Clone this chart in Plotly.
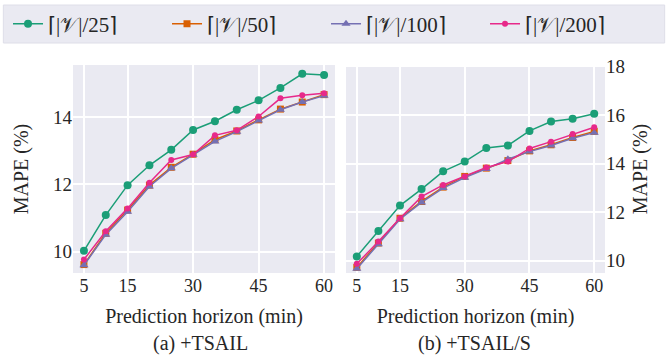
import plotly.graph_objects as go

horizons = [5, 10, 15, 20, 25, 30, 35, 40, 45, 50, 55, 60]
x_ticks = [5, 15, 30, 45, 60]
y_ticks_a = [10, 12, 14]
y_ticks_b = [10, 12, 14, 16, 18]

series_names = ["⌈|𝒱|/25⌉", "⌈|𝒱|/50⌉", "⌈|𝒱|/100⌉", "⌈|𝒱|/200⌉"]

# (a) +TSAIL
a_25 = [10.03, 11.09, 11.98, 12.57, 13.03, 13.62, 13.88, 14.22, 14.50, 14.87, 15.29, 15.25]
a_50 = [9.62, 10.55, 11.24, 11.98, 12.51, 12.90, 13.33, 13.59, 13.92, 14.24, 14.45, 14.67]
a_100 = [9.60, 10.51, 11.19, 11.94, 12.48, 12.88, 13.28, 13.57, 13.90, 14.22, 14.45, 14.64]
a_200 = [9.77, 10.61, 11.29, 12.05, 12.73, 12.89, 13.46, 13.61, 14.02, 14.56, 14.65, 14.71]

# (b) +TSAIL/S
b_25 = [10.18, 11.23, 12.27, 12.95, 13.68, 14.08, 14.64, 14.74, 15.34, 15.73, 15.84, 16.05]
b_50 = [9.73, 10.73, 11.75, 12.44, 13.03, 13.47, 13.81, 14.12, 14.52, 14.77, 15.07, 15.32]
b_100 = [9.67, 10.68, 11.71, 12.40, 12.99, 13.42, 13.78, 14.18, 14.49, 14.74, 15.04, 15.27]
b_200 = [9.88, 10.79, 11.75, 12.64, 13.12, 13.47, 13.84, 14.08, 14.62, 14.90, 15.21, 15.49]

colors = ["#1b9e77", "#d95f02", "#7570b3", "#e7298a"]
symbols = ["circle", "square", "triangle-up", "circle"]
sizes = [8, 7, 8, 6]

FAM = "Liberation Serif"
TXT = "#262626"
BG = "#eaeaf2"

def f(size):
    return dict(family=FAM, size=size, color=TXT)

fig = go.Figure()
for i, (ya, yb) in enumerate(zip([a_25, a_50, a_100, a_200], [b_25, b_50, b_100, b_200])):
    for j, (ys, xa, ya_ax) in enumerate([(ya, "x", "y"), (yb, "x2", "y2")]):
        fig.add_trace(go.Scatter(
            x=horizons, y=ys, xaxis=xa, yaxis=ya_ax,
            mode="lines+markers", name=series_names[i],
            legendgroup=series_names[i], showlegend=(j == 0),
            line=dict(color=colors[i], width=1.5),
            marker=dict(symbol=symbols[i], size=sizes[i], color=colors[i]),
        ))

def axis(tick_size, **kw):
    d = dict(showgrid=True, gridcolor="white", gridwidth=2, zeroline=False,
             showline=False, ticks="", tickfont=f(tick_size), automargin=False)
    d.update(kw)
    return d

fig.update_layout(
    template="none",
    width=668, height=362,
    margin=dict(l=0, r=0, t=0, b=0),
    paper_bgcolor="white", plot_bgcolor=BG,
    font=f(18),
    xaxis=axis(18, domain=[0.1093, 0.5015], range=[2.5, 62.5], tickvals=x_ticks,
               title=dict(text="Prediction horizon (min)", font=f(20), standoff=14),
               anchor="y"),
    yaxis=axis(19, domain=[0.2459, 0.8204], range=[9.37, 15.55], tickvals=y_ticks_a,
               title=dict(text="MAPE (%)", font=f(20), standoff=18),
               anchor="x"),
    xaxis2=axis(18, domain=[0.518, 0.9057], range=[2.5, 62.5], tickvals=x_ticks,
                title=dict(text="Prediction horizon (min)", font=f(20), standoff=14),
                anchor="y2"),
    yaxis2=axis(19, domain=[0.2459, 0.8204], range=[9.5, 18.05], tickvals=y_ticks_b,
                side="right", anchor="x2",
                title=dict(text="MAPE (%)", font=f(20), standoff=8)),
    legend=dict(orientation="h", x=0.012, y=0.99, xanchor="left", yanchor="top",
                bgcolor="rgba(0,0,0,0)", borderwidth=0,
                entrywidth=114, font=f(21)),
    shapes=[dict(type="rect", xref="paper", yref="paper", x0=0.005, x1=0.995,
                 y0=1 - 43 / 362, y1=1 - 5 / 362, fillcolor=BG,
                 line=dict(color="#dedee8", width=1), layer="below")],
    annotations=[
        dict(text="(a) +TSAIL", x=0.30, y=1 - 343 / 362, xref="paper", yref="paper",
             xanchor="center", yanchor="middle", showarrow=False, font=f(20)),
        dict(text="(b) +TSAIL/S", x=0.711, y=1 - 343 / 362, xref="paper", yref="paper",
             xanchor="center", yanchor="middle", showarrow=False, font=f(20)),
    ],
)

fig.write_html("out.html", config={"displayModeBar": False},
               post_script="document.body.style.margin='0';")
